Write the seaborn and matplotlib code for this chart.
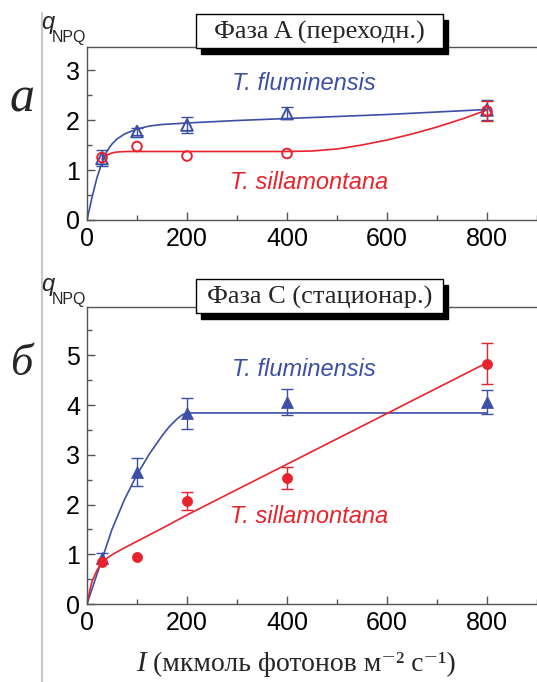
import matplotlib
matplotlib.use("Agg")
import matplotlib.pyplot as plt
import numpy as np
import seaborn as sns
from matplotlib.patches import Rectangle
from matplotlib.lines import Line2D
from matplotlib.ticker import MultipleLocator

BLUE = "#3c4fa6"
RED = "#e8232c"

# measured points
light = [30, 100, 200, 400, 800]

# phase A (transient)
a_flum = [1.23, 1.77, 1.90, 2.13, 2.20]
a_flum_err = [0.16, 0.07, 0.16, 0.12, 0.20]
a_sill = [1.25, 1.47, 1.28, 1.33, 2.18]
a_sill_err = [0.0, 0.0, 0.0, 0.0, 0.20]

# phase C (steady state)
c_flum = [0.92, 2.66, 3.83, 4.06, 4.06]
c_flum_err = [0.10, 0.28, 0.32, 0.26, 0.24]
c_sill = [0.85, 0.95, 2.07, 2.54, 4.83]
c_sill_err = [0.0, 0.0, 0.18, 0.22, 0.41]

# fitted curves
a_flum_fit_x = [0, 10, 20, 30, 40, 50, 60, 75, 100, 125, 150, 200, 300, 400, 500, 600, 700, 800]
a_flum_fit_y = [0, 0.45, 0.85, 1.15, 1.38, 1.52, 1.62, 1.72, 1.82, 1.88, 1.91, 1.94, 1.99, 2.03, 2.07, 2.11, 2.16, 2.21]
a_sill_fit_x = [30, 40, 50, 60, 80, 100, 200, 300, 400, 450, 500, 550, 600, 650, 700, 750, 800]
a_sill_fit_y = [1.22, 1.30, 1.34, 1.36, 1.37, 1.37, 1.37, 1.37, 1.37, 1.38, 1.42, 1.50, 1.60, 1.72, 1.86, 2.02, 2.20]
c_flum_fit_x = [0, 10, 20, 30, 50, 75, 100, 125, 150, 165, 180, 190, 200, 400, 600, 800]
c_flum_fit_y = [0, 0.30, 0.60, 0.90, 1.50, 2.10, 2.60, 3.02, 3.38, 3.57, 3.72, 3.80, 3.84, 3.84, 3.84, 3.84]
c_sill_fit_x = [0, 5, 10, 20, 30, 40, 50, 75, 100, 150, 200, 400, 600, 800]
c_sill_fit_y = [0, 0.25, 0.45, 0.68, 0.83, 0.92, 0.99, 1.13, 1.26, 1.52, 1.79, 2.81, 3.83, 4.85]

W, H = 537, 682


def fx(px):
    return px / W


def fy(py):
    return 1 - py / H


def draw_panel(ax, flum, flum_err, sill, sill_err, fits, filled, ymax):
    (fx1, fy1), (fx2, fy2) = fits
    sns.lineplot(x=fx1, y=fy1, ax=ax, color=BLUE, lw=1.2, sort=False)
    sns.lineplot(x=fx2, y=fy2, ax=ax, color=RED, lw=1.2, sort=False)

    x = np.array(light)
    for vals, errs, col, mk in [(flum, flum_err, BLUE, "^"), (sill, sill_err, RED, "o")]:
        vals = np.array(vals)
        errs = np.array(errs)
        m = errs > 0
        ax.errorbar(x[m], vals[m], yerr=errs[m], fmt="none", ecolor=col,
                    elinewidth=1.0, capsize=4, capthick=1.0, zorder=3)
        size = 70 if mk == "^" else 48
        if filled:
            sns.scatterplot(x=x, y=vals, ax=ax, marker=mk, s=size + 5, color=col,
                            edgecolor=col, linewidth=0.5, zorder=4)
        else:
            sns.scatterplot(x=x, y=vals, ax=ax, marker=mk, s=size, fc="none",
                            ec=col, linewidth=1.4, zorder=4)

    ax.set_xlim(0, 900)
    ax.set_ylim(0, ymax)
    ax.xaxis.set_major_locator(MultipleLocator(200))
    ax.xaxis.set_minor_locator(MultipleLocator(100))
    ax.yaxis.set_major_locator(MultipleLocator(1))
    ax.yaxis.set_minor_locator(MultipleLocator(0.5))
    ax.tick_params(which="both", direction="in", color="#555555", labelsize=18,
                   labelcolor="black")
    ax.tick_params(which="major", length=6, width=1.0)
    ax.tick_params(which="minor", length=3.5, width=1.0)
    ax.tick_params(axis="x", pad=5)
    ax.tick_params(axis="y", pad=5)
    for side in ["left", "bottom", "top"]:
        ax.spines[side].set_color("#555555")
        ax.spines[side].set_linewidth(1.0)
    ax.spines["right"].set_visible(False)
    ax.set_xlabel("")
    ax.set_ylabel("")


def title_box(fig, text, top):
    x0, x1 = 196, 443
    y0, y1 = top, top + 34
    fig.add_artist(Rectangle((fx(x0 + 5), fy(y1 + 6)), (x1 - x0) / W, (y1 - y0) / H,
                             transform=fig.transFigure, fc="black", ec="black", zorder=10))
    fig.add_artist(Rectangle((fx(x0), fy(y1)), (x1 - x0) / W, (y1 - y0) / H,
                             transform=fig.transFigure, fc="white", ec="black", lw=1.0, zorder=11))
    fig.text(fx((x0 + x1) / 2), fy((y0 + y1) / 2 + 1), text, ha="center", va="center",
             fontsize=19, family=["Liberation Serif", "DejaVu Serif"], zorder=12)


def q_label(fig, off):
    fig.text(fx(41), fy(29 + off), "q", fontsize=17, style="italic", va="baseline", ha="left")
    fig.text(fx(52), fy(42 + off), "NPQ", fontsize=11.5, va="baseline", ha="left")


sns.set_theme(style="ticks")
plt.rcParams["font.family"] = ["Liberation Sans", "DejaVu Sans"]

fig = plt.figure(figsize=(W / 100, H / 100), dpi=100)
ax_a = fig.add_axes([fx(87), fy(220), 1 - fx(87), (220 - 47) / H])
ax_c = fig.add_axes([fx(87), fy(604), 1 - fx(87), (604 - 307) / H])

draw_panel(ax_a, a_flum, a_flum_err, a_sill, a_sill_err,
           [(a_flum_fit_x, a_flum_fit_y), (a_sill_fit_x, a_sill_fit_y)], False, 3.46)
draw_panel(ax_c, c_flum, c_flum_err, c_sill, c_sill_err,
           [(c_flum_fit_x, c_flum_fit_y), (c_sill_fit_x, c_sill_fit_y)], True, 5.97)

sp = dict(fontsize=17, style="italic", ha="left", va="center")
ax_a.text(290, 2.72, "T. fluminensis", color=BLUE, **sp)
ax_a.text(286, 0.74, "T. sillamontana", color=RED, **sp)
ax_c.text(290, 4.72, "T. fluminensis", color=BLUE, **sp)
ax_c.text(286, 1.75, "T. sillamontana", color=RED, **sp)

title_box(fig, "Фаза A (переходн.)", 14)
title_box(fig, "Фаза C (стационар.)", 279)
q_label(fig, 0)
q_label(fig, 262)

serif = ["Liberation Serif", "DejaVu Serif"]
fig.text(fx(22), fy(99), "а", fontsize=36, style="italic", family=serif, ha="center", va="center")
fig.text(fx(21), fy(364), "б", fontsize=32, style="italic", family=serif, ha="center", va="center")

# x axis title: italic I, then the units
fig.text(fx(136), fy(671), "I", fontsize=21, style="italic", family=serif,
         ha="left", va="baseline")
fig.text(fx(153), fy(671), "(мкмоль фотонов м⁻² с⁻¹)", fontsize=20, family=serif,
         ha="left", va="baseline")

fig.add_artist(Line2D([fx(42), fx(42)], [fy(13), 0], transform=fig.transFigure,
                      color="#c8c8c8", lw=1.5))

fig.savefig("out.png", dpi=100)
